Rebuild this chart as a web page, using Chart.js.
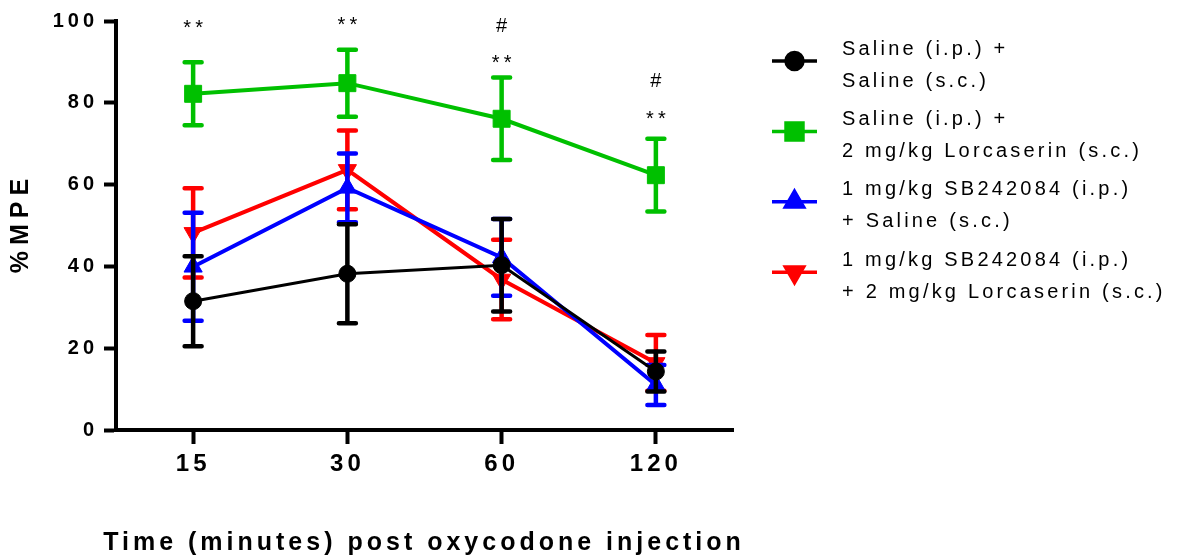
<!DOCTYPE html>
<html>
<head>
<meta charset="utf-8">
<script src="https://cdn.jsdelivr.net/npm/chart.js@4.4.1/dist/chart.umd.min.js"></script>
<style>
  html, body { margin: 0; padding: 0; background: #fff; }
  canvas { display: block; }
</style>
</head>
<body>
<canvas id="mpeChart" width="1187" height="557"></canvas>
<script>
// %MPE time course after oxycodone, four treatment groups (mean ± SEM)

const timeLabels = ["15", "30", "60", "120"];

const salineSalineMean = [31.5, 38.2, 40.3, 14.3];
const salineSalineSem = [11.0, 12.1, 11.3, 4.9];

const salineLorcMean = [82.2, 84.8, 76.1, 62.3];
const salineLorcSem = [7.7, 8.2, 10.1, 8.9];

const sbSalineMean = [39.9, 59.2, 42.2, 11.0];
const sbSalineSem = [13.2, 8.4, 9.4, 4.9];

const sbLorcMean = [48.2, 63.6, 36.8, 16.4];
const sbLorcSem = [10.9, 9.6, 9.7, 6.8];

const groupNames = [
  ["Saline (i.p.) +", "Saline (s.c.)"],
  ["Saline (i.p.) +", "2 mg/kg Lorcaserin (s.c.)"],
  ["1 mg/kg SB242084 (i.p.)", "+ Saline (s.c.)"],
  ["1 mg/kg SB242084 (i.p.)", "+ 2 mg/kg Lorcaserin (s.c.)"]
];

// significance marks above each time point, with the %MPE level they sit at
const starMarks = ["**", "**", "**", "**"];
const starLevels = [99.3, 100, 90.8, 76.9];
const hashMarks = ["", "", "#", "#"];
const hashLevels = [0, 0, 99.1, 85.5];

const semSeries = [salineSalineSem, salineLorcSem, sbSalineSem, sbLorcSem];

const FONT = "'Liberation Sans', Arial, Helvetica, sans-serif";

function spacedText(ctx, text, x, y, spacing) {
  ctx.letterSpacing = spacing + "px";
  // trailing spacing shifts centred text; compensate
  if (ctx.textAlign === "center") x += spacing / 2;
  if (ctx.textAlign === "right") x += spacing;
  ctx.fillText(text, x, y);
}

const errorBars = {
  id: "errorBars",
  beforeDatasetDraw(chart, args) {
    const ds = chart.data.datasets[args.index];
    const sem = semSeries[args.index];
    const y = chart.scales.y;
    const ctx = chart.ctx;
    ctx.save();
    ctx.strokeStyle = ds.borderColor;
    ctx.lineWidth = 4.5;
    ctx.lineCap = "round";
    args.meta.data.forEach((pt, i) => {
      const top = y.getPixelForValue(ds.data[i] + sem[i]);
      const bot = y.getPixelForValue(ds.data[i] - sem[i]);
      ctx.beginPath();
      ctx.moveTo(pt.x, top);
      ctx.lineTo(pt.x, bot);
      ctx.moveTo(pt.x - 8.5, top);
      ctx.lineTo(pt.x + 8.5, top);
      ctx.moveTo(pt.x - 8.5, bot);
      ctx.lineTo(pt.x + 8.5, bot);
      ctx.stroke();
    });
    ctx.restore();
  }
};

const extras = {
  id: "extras",
  beforeDraw(chart) {
    chart.ctx.letterSpacing = "4px";
  },
  afterDraw(chart) {
    const ctx = chart.ctx;
    const area = chart.chartArea;
    const x = chart.scales.x;
    const y = chart.scales.y;
    ctx.save();
    ctx.fillStyle = "#000";

    // axis titles
    ctx.font = "bold 25px " + FONT;
    ctx.textAlign = "center";
    ctx.textBaseline = "middle";
    spacedText(ctx, "Time (minutes) post oxycodone injection", 422, 543, 4);

    ctx.save();
    ctx.translate(21, 226);
    ctx.rotate(-Math.PI / 2);
    ctx.font = "bold 25px " + FONT;
    spacedText(ctx, "%MPE", 0, 0, 6);
    ctx.restore();

    // significance marks
    ctx.font = "20px " + FONT;
    ctx.textAlign = "center";
    ctx.textBaseline = "alphabetic";
    const drawMark = (t, i, level) => {
      if (!t) return;
      ctx.letterSpacing = "4px";
      const m = ctx.measureText(t);
      const cy = y.getPixelForValue(level);
      const base = cy + (m.actualBoundingBoxAscent - m.actualBoundingBoxDescent) / 2;
      spacedText(ctx, t, x.getPixelForValue(i), base, 4);
    };
    starMarks.forEach((t, i) => drawMark(t, i, starLevels[i]));
    hashMarks.forEach((t, i) => drawMark(t, i, hashLevels[i]));

    // legend
    const lx = area.right + 39;
    chart.data.datasets.forEach((ds, i) => {
      const cy = 61 + i * 70.4;
      ctx.strokeStyle = ds.borderColor;
      ctx.fillStyle = ds.borderColor;
      ctx.lineWidth = 3.5;
      ctx.beginPath();
      ctx.moveTo(lx, cy);
      ctx.lineTo(lx + 45, cy);
      ctx.stroke();
      Chart.helpers.drawPoint(ctx, {
        pointStyle: ds.pointStyle,
        radius: ds.pointRadius,
        rotation: ds.pointRotation || 0,
        borderWidth: 1
      }, lx + 22.5, cy);

      ctx.fillStyle = "#000";
      ctx.font = "20px " + FONT;
      ctx.textAlign = "left";
      ctx.textBaseline = "middle";
      spacedText(ctx, groupNames[i][0], lx + 70, cy - 12, 3.2);
      spacedText(ctx, groupNames[i][1], lx + 70, cy + 20, 3.2);
    });

    ctx.restore();
    ctx.letterSpacing = "0px";
  }
};

const makeSeries = (i, data, color, style, radius, rotation, width) => ({
  label: groupNames[i].join(" "),
  data: data,
  borderColor: color,
  backgroundColor: color,
  borderWidth: width,
  pointStyle: style,
  pointRadius: radius,
  pointRotation: rotation,
  pointBorderWidth: 1,
  pointBackgroundColor: color,
  pointBorderColor: color,
  tension: 0
});

new Chart(document.getElementById("mpeChart"), {
  type: "line",
  data: {
    labels: timeLabels,
    datasets: [
      makeSeries(0, salineSalineMean, "#000000", "circle", 8.5, 0, 3),
      makeSeries(1, salineLorcMean, "#00c000", "rect", 12, 0, 4),
      makeSeries(2, sbSalineMean, "#0000ff", "triangle", 10.5, 0, 4),
      makeSeries(3, sbLorcMean, "#ff0000", "triangle", 10.5, 180, 4)
    ]
  },
  options: {
    responsive: false,
    animation: false,
    layout: { padding: { left: 0, right: 454, top: 21, bottom: 0 } },
    plugins: { legend: { display: false }, tooltip: { enabled: false } },
    scales: {
      x: {
        offset: true,
        afterFit(scale) { scale.height = 127; },
        border: { color: "#000", width: 4 },
        grid: { offset: false, drawOnChartArea: false, tickLength: 14, tickWidth: 4, tickColor: "#000" },
        ticks: { color: "#000", font: { family: FONT, size: 24, weight: "bold" }, padding: 6 }
      },
      y: {
        min: 0,
        max: 100,
        afterFit(scale) { scale.width = 116; },
        border: { color: "#000", width: 4 },
        grid: { drawOnChartArea: false, tickLength: 12, tickWidth: 4, tickColor: "#000" },
        ticks: { stepSize: 20, color: "#000", font: { family: FONT, size: 20, weight: "bold" }, padding: 6 }
      }
    }
  },
  plugins: [errorBars, extras]
});
</script>
</body>
</html>
